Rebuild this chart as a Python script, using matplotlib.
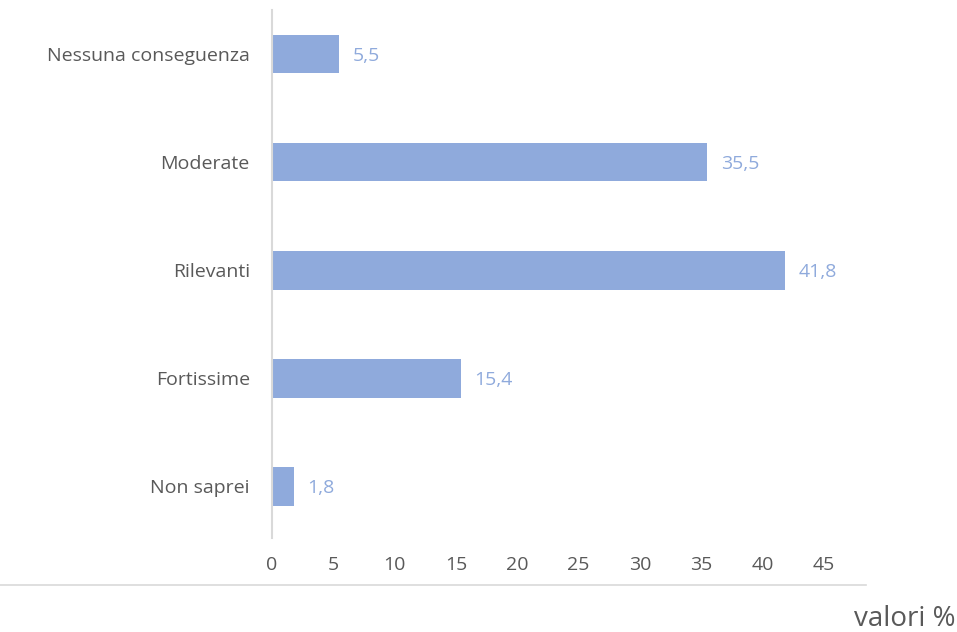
import matplotlib
matplotlib.use("Agg")
import matplotlib.pyplot as plt

categories = ["Nessuna conseguenza", "Moderate", "Rilevanti", "Fortissime", "Non saprei"]
values = [5.5, 35.5, 41.8, 15.4, 1.8]
value_labels = ["5,5", "35,5", "41,8", "15,4", "1,8"]
xticks = [0, 5, 10, 15, 20, 25, 30, 35, 40, 45]

plt.rcParams['font.family'] = ['Open Sans', 'DejaVu Sans']
W, H = 957, 632
fig = plt.figure(figsize=(W/100, H/100), dpi=100)
ax = fig.add_axes([272/W, 1-538/H, (824-272)/W, (538-10)/H])

bar_color = "#8FAADC"
text_gray = "#595959"
ypos = list(range(len(categories)))
ax.barh(ypos, values, height=0.36, color=bar_color)
ax.set_ylim(4.48, -0.407)
ax.set_xlim(0, 45)
for y, v, lab in zip(ypos, values, value_labels):
    ax.text(v + 1.1, y, lab, va='center_baseline', ha='left', color=bar_color, fontsize=14)

ax.set_yticks(ypos)
ax.set_yticklabels(categories, fontsize=14, color=text_gray, va='center_baseline')
ax.set_xticks(xticks)
ax.set_xticklabels([str(t) for t in xticks], fontsize=14, color=text_gray)
ax.tick_params(axis='y', length=0, pad=16)
ax.tick_params(axis='x', length=0, pad=13)
for s in ['top', 'right', 'bottom']:
    ax.spines[s].set_visible(False)
ax.spines['left'].set_color("#D9D9D9")
ax.spines['left'].set_linewidth(1.5)

fig.add_artist(plt.Line2D([0, 866/W], [1-585/H, 1-585/H], color="#D9D9D9", lw=1.2, transform=fig.transFigure))
fig.text(955/W, 1-619/H, "valori %", ha='right', va='center', fontsize=20, color=text_gray)

fig.savefig("out.png", dpi=100)
